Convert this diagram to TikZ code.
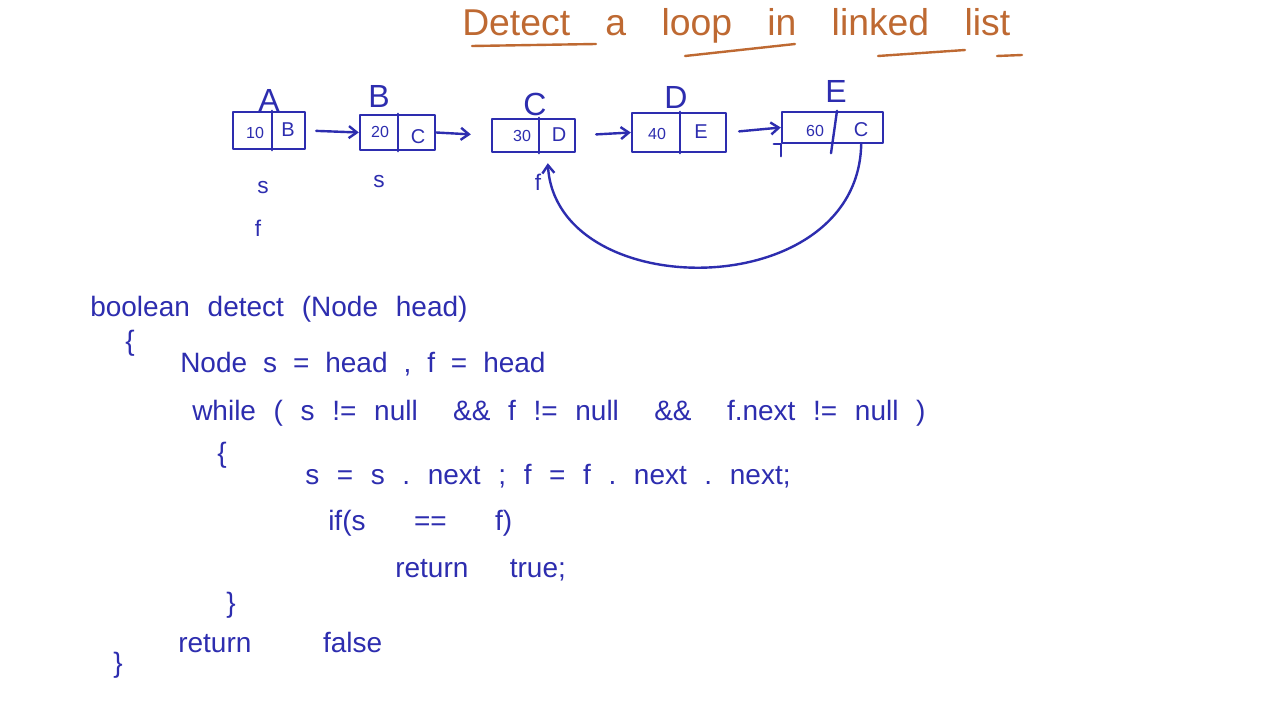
\documentclass[tikz,border=0pt]{standalone}
\usepackage{fontspec}
\setmainfont{Liberation Sans}
\usetikzlibrary{arrows.meta,calc}
\definecolor{ink}{RGB}{45,45,175}
\definecolor{ttl}{RGB}{190,105,50}
\frenchspacing
\begin{document}
\begin{tikzpicture}[x=0.75pt,y=-0.75pt,
  pen/.style={draw=ink,line width=1.8pt,line cap=round,line join=round},
  cell/.style={pen,rectangle,inner sep=0pt},
  arr/.style={pen,-{Straight Barb[length=6pt,width=9pt]}},
  lbl/.style={text=ink,font=\fontsize{24}{28}\selectfont,inner sep=0pt},
  val/.style={text=ink,font=\fontsize{12}{14}\selectfont,inner sep=0pt},
  ptr/.style={text=ink,font=\fontsize{15}{18}\selectfont,inner sep=0pt},
  var/.style={text=ink,font=\fontsize{17}{20}\selectfont,inner sep=0pt},
  code/.style={text=ink,font=\fontsize{21}{24}\selectfont\frenchspacing,inner sep=0pt,anchor=base west},
  brace/.style={text=ink,font=\fontsize{21}{24}\selectfont,inner sep=0pt},
  title/.style={text=ttl,font=\fontsize{28}{32}\selectfont,inner sep=0pt,anchor=base west},
  uline/.style={draw=ttl,line width=1.8pt,line cap=round}
]
\useasboundingbox[fill=white] (0,0) rectangle (1280,709);

% title
\node[title] (ttl) at (462,36) {\makebox[411pt][s]{Detect a loop in linked list}};
\draw[uline] (472,46) -- (596,44);
\draw[uline] (685,56) -- (795,44);
\draw[uline] (878,56) -- (965,50);
\draw[uline] (997,56) -- (1022,55);

% boxes
\node[cell,minimum width=54pt,minimum height=27.75pt] (nA) at (269,130.5) {};
\node[cell,minimum width=56.25pt,minimum height=26.25pt] (nB) at (397.5,132.5) {};
\node[cell,minimum width=62.25pt,minimum height=24.75pt] (nC) at (533.5,135.5) {};
\node[cell,minimum width=70.5pt,minimum height=29.25pt] (nD) at (679,132.5) {};
\node[cell,minimum width=75.75pt,minimum height=23.25pt] (nE) at (832.5,127.5) {};

% dividers
\draw[pen] (nA.north -| 272,0) -- (nA.south -| 272,0);
\draw[pen] (nB.north -| 398,0) -- (nB.south -| 398,0);
\draw[pen] (nC.north -| 539,0) -- (nC.south -| 539,0);
\draw[pen] (nD.north -| 680,0) -- (nD.south -| 680,0);
\draw[pen] (nE.north -| 837,0) -- ($(nE.south -| 831,0)+(0,9)$);
\draw[pen] (nE.south west) -- ++(0,12);
\draw[pen] (nE.south west) -- ++(-7,0);

% cell contents
\node[val] (vA) at (255,133) {10};
\node[ptr] (pA) at (288,130) {B};
\node[val] (vB) at (380,132) {20};
\node[ptr] (pB) at (418,137) {C};
\node[val] (vC) at (522,136) {30};
\node[ptr] (pC) at (559,135) {D};
\node[val] (vD) at (657,134) {40};
\node[ptr] (pD) at (701,132) {E};
\node[val] (vE) at (815,131) {60};
\node[ptr] (pE) at (861,130) {C};

% node names
\node[lbl] (lA) at (269,100) {A};
\node[lbl] (lB) at (379,96) {B};
\node[lbl] (lC) at (535,104) {C};
\node[lbl] (lD) at (676,97) {D};
\node[lbl] (lE) at (836,91) {E};

% pointers s and f
\node[var] (sA) at (263,188) {s};
\node[var] (fA) at (258,228) {f};
\node[var] (sB) at (379,182) {s};
\node[var] (fC) at (538,182) {f};

% arrows
\draw[arr,shorten <=7.5pt] (nA.east) -- (nB.west);
\draw[arr,shorten >=15pt] (nB.east) -- (nC.west);
\draw[arr,shorten <=15pt] (nC.east) -- (nD.west);
\draw[arr,shorten <=9pt] (nD.east) -- (nE.west);
\coordinate (loopS) at ($(nE.south east)+(-23,0)$);
\coordinate (loopT) at ($(nC.south west)+(57,10)$);
\draw[arr] (loopS) .. controls (858,305) and (556,305) .. (loopT);

% code
\node[code] (c1) at (90,316) {\makebox[283pt][s]{boolean detect (Node head)}};
\node[brace] (b1) at (130,343) {\{};
\node[code] (c2) at (180,372) {\makebox[274pt][s]{Node s = head , f = head}};
\node[code] (c3) at (192,420) {\makebox[550pt][s]{while ( s != null \ \&\& f != null \ \&\& \ f.next != null )}};
\node[brace] (b2) at (222,455) {\{};
\node[code] (c4) at (305,484) {\makebox[364pt][s]{s = s . next ; f = f . next . next;}};
\node[code] (c5) at (328,530) {\makebox[138pt][s]{if(s == f)}};
\node[code] (c6) at (395,577) {\makebox[128pt][s]{return true;}};
\node[brace] (b3) at (231,605) {\}};
\node[code] (c7) at (178,652) {\makebox[153pt][s]{return \ false}};
\node[brace] (b4) at (118,665) {\}};
\end{tikzpicture}
\end{document}
